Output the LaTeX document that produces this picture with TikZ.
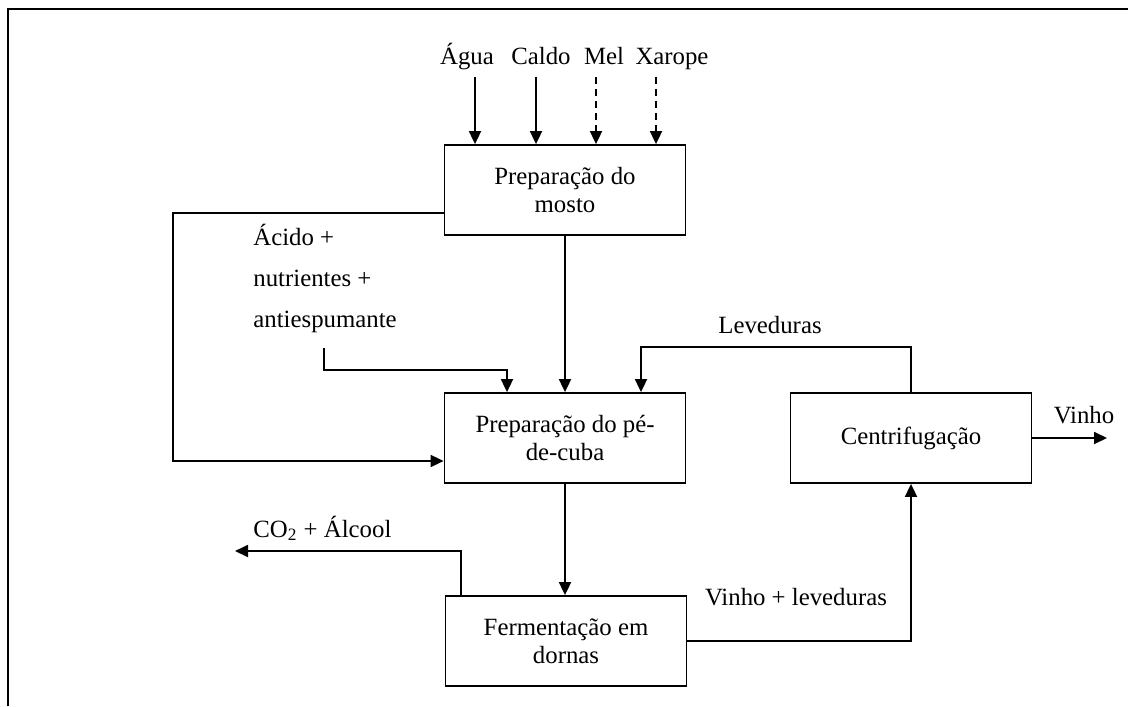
\documentclass[tikz,border=0pt]{standalone}
\usepackage{fontspec}
\setmainfont{Liberation Serif}
\usetikzlibrary{arrows.meta}
\begin{document}
\begin{tikzpicture}[x=0.5pt,y=-0.5pt,
  every node/.style={font=\fontsize{12.4}{13.8}\selectfont, inner sep=0pt},
  proc/.style={draw, line width=0.9pt, minimum width=120.5pt, minimum height=45pt, align=center},
  arr/.style={line width=0.9pt, -{Triangle[length=6.5pt,width=6pt]}},
  frame/.style={line width=1.1pt},
  lbl/.style={anchor=base}]
\useasboundingbox (0,0) rectangle (1128,706);

% outer frame (top and left sides only)
\draw[frame] (8,706) -- (8,9) -- (1128,9);

% process boxes
\node[proc] (mosto) at (565,190) {Preparação do\\mosto};
\node[proc] (pe)    at (565,438) {Preparação do pé-\\de-cuba};
\node[proc] (ferm)  at (566,641) {Fermentação em\\dornas};
\node[proc] (cent)  at (911,438) {Centrifugação};

% feed labels
\node[lbl] (agua)   at (467,65) {Água};
\node[lbl] (caldo)  at (541,65) {Caldo};
\node[lbl] (mel)    at (604,65) {Mel};
\node[lbl] (xarope) at (672,65) {Xarope};
\coordinate (inA) at (475,77);
\coordinate (inC) at (536,77);
\coordinate (inM) at (596,77);
\coordinate (inX) at (656,77);

% feeds into the must preparation
\draw[arr] (inA) -- (inA |- mosto.north);
\draw[arr] (inC) -- (inC |- mosto.north);
\draw[arr, dash pattern=on 3.5pt off 2.5pt] (inM) -- (inM |- mosto.north);
\draw[arr, dash pattern=on 3.5pt off 2.5pt] (inX) -- (inX |- mosto.north);

% additives
\node[anchor=base west] (acido1) at (253,245) {Ácido +};
\node[anchor=base west] (acido2) at (253,286) {nutrientes +};
\node[anchor=base west] (acido3) at (253,327) {antiespumante};
\coordinate (acid) at (324,348);
\draw[arr] (acid) |- ([xshift=-29pt,yshift=11pt]pe.north) -- ([xshift=-29pt]pe.north);

% must to pé-de-cuba
\draw[arr] (mosto.south) -- (mosto.south |- pe.north);

% bypass from must preparation
\draw[arr] ([yshift=-11.5pt]mosto.west) -- ++(-271,0) |- ([yshift=-11.5pt]pe.west);

% yeast recycle
\node[lbl] (lev) at (770,333) {Leveduras};
\draw[arr] (cent.north) -- ++(0,-45) -| ([xshift=38pt]pe.north);

% wine out
\node[lbl] (vinho) at (1084,423) {Vinho};
\coordinate (vout) at (1107,438);
\draw[arr] (cent.east) -- (vout);

% pé-de-cuba to fermentation
\draw[arr] (pe.south) -- (pe.south |- ferm.north);

% gases
\node[anchor=base west] (co2) at (253,537) {CO\textsubscript{2} + Álcool};
\coordinate (co2end) at (235,551);
\draw[arr] ([xshift=-52.5pt]ferm.north) |- (co2end);

% fermented wine to centrifuge
\node[lbl] (vl) at (796,605) {Vinho + leveduras};
\draw[arr] (ferm.east) -| (cent.south);
\end{tikzpicture}
\end{document}
